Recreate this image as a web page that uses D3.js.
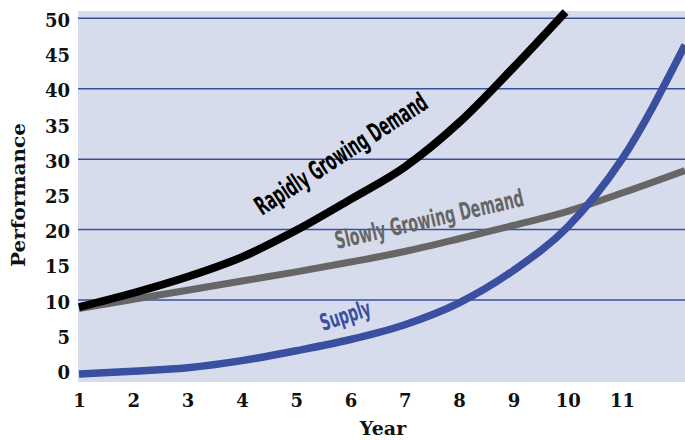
<!DOCTYPE html>
<html>
<head>
<meta charset="utf-8">
<script src="https://cdn.jsdelivr.net/npm/d3@7"></script>
<style>
  html, body { margin: 0; padding: 0; background: #ffffff; }
  svg { display: block; }
</style>
</head>
<body>
<svg id="chart" width="685" height="440"></svg>
<script>
// Performance over time: two demand curves against supply
const rapidYears   = [1, 2, 3, 4, 5, 6, 7, 8, 9, 9.96];
const rapidValues  = [9.0, 11.0, 13.3, 16.1, 19.9, 24.3, 28.9, 35.2, 43.0, 50.9];

const slowYears    = [1, 2, 3, 4, 5, 6, 7, 8, 9, 10, 11, 12.16];
const slowValues   = [8.8, 10.1, 11.4, 12.7, 14.0, 15.4, 16.9, 18.7, 20.6, 22.6, 25.2, 28.4];

const supplyYears  = [1, 2, 3, 4, 5, 6, 7, 8, 9, 10, 11, 12.16];
const supplyValues = [-0.5, -0.1, 0.4, 1.4, 2.8, 4.4, 6.5, 9.6, 14.2, 20.4, 30.0, 46.2];

const xTicks    = [1, 2, 3, 4, 5, 6, 7, 8, 9, 10, 11];
const yTicks    = [0, 5, 10, 15, 20, 25, 30, 35, 40, 45, 50];
const gridTicks = [10, 20, 30, 40, 50];

const seriesLabels = ["Rapidly Growing Demand", "Slowly Growing Demand", "Supply"];

const svg = d3.select("#chart");

const plot = { left: 78, right: 685, top: 11, bottom: 382 };

const x = d3.scaleLinear().domain([1, 11]).range([79, 622]);
const y = d3.scaleLinear().domain([0, 50]).range([370.5, 18.3]);

// plot background
svg.append("rect")
  .attr("x", plot.left).attr("y", plot.top)
  .attr("width", plot.right - plot.left).attr("height", plot.bottom - plot.top)
  .attr("fill", "#d7dcec");

// horizontal gridlines
svg.append("g")
  .selectAll("line")
  .data(gridTicks)
  .join("line")
  .attr("x1", plot.left).attr("x2", plot.right)
  .attr("y1", d => y(d)).attr("y2", d => y(d))
  .attr("stroke", "#3a4f9f")
  .attr("stroke-width", 1.5);

// y axis tick labels
const yAxis = d3.axisLeft(y).tickValues(yTicks).tickSize(0).tickPadding(0);
svg.append("g")
  .attr("transform", "translate(70,0)")
  .call(yAxis)
  .call(g => g.select(".domain").remove())
  .selectAll("text")
  .attr("font-family", "'DejaVu Serif', serif")
  .attr("font-weight", "bold")
  .attr("font-size", 18)
  .attr("fill", "#111")
  .attr("dy", "0.45em");

// x axis tick labels
const xAxis = d3.axisBottom(x).tickValues(xTicks).tickSize(0).tickPadding(0);
svg.append("g")
  .attr("transform", "translate(0,393)")
  .call(xAxis)
  .call(g => g.select(".domain").remove())
  .selectAll("text")
  .attr("font-family", "'DejaVu Serif', serif")
  .attr("font-weight", "bold")
  .attr("font-size", 18)
  .attr("fill", "#111")
  .attr("dy", "0.75em");

// axis titles
svg.append("text")
  .attr("transform", "translate(25,195) rotate(-90)")
  .attr("text-anchor", "middle")
  .attr("font-family", "'DejaVu Serif', serif")
  .attr("font-weight", "bold")
  .attr("font-size", 19)
  .attr("textLength", 144)
  .attr("lengthAdjust", "spacingAndGlyphs")
  .attr("fill", "#111")
  .text("Performance");

svg.append("text")
  .attr("x", 383).attr("y", 435)
  .attr("text-anchor", "middle")
  .attr("font-family", "'DejaVu Serif', serif")
  .attr("font-weight", "bold")
  .attr("font-size", 19)
  .attr("fill", "#111")
  .text("Year");

// series lines
const line = d3.line()
  .x(d => x(d[0]))
  .y(d => y(d[1]))
  .curve(d3.curveMonotoneX);

const series = [
  { years: slowYears,   values: slowValues,   color: "#666666", width: 7 },
  { years: supplyYears, values: supplyValues, color: "#3a4f9f", width: 7.5 },
  { years: rapidYears,  values: rapidValues,  color: "#000000", width: 8 }
];

svg.append("g")
  .selectAll("path")
  .data(series)
  .join("path")
  .attr("d", s => line(s.years.map((yr, i) => [yr, s.values[i]])))
  .attr("fill", "none")
  .attr("stroke", s => s.color)
  .attr("stroke-width", s => s.width)
  .attr("stroke-linecap", "butt");

// curve labels, condensed and set along each curve
const labelFont = "'DejaVu Sans Condensed', 'DejaVu Sans', sans-serif";
const labels = [
  { text: seriesLabels[0], px: 262, py: 216, angle: -33, len: 200, size: 26, color: "#000000" },
  { text: seriesLabels[1], px: 337, py: 249, angle: -13, len: 193, size: 24, color: "#666666" },
  { text: seriesLabels[2], px: 323, py: 331, angle: -18, len: 52,  size: 23, color: "#3a4f9f" }
];

svg.append("g")
  .selectAll("text")
  .data(labels)
  .join("text")
  .attr("transform", d => `translate(${d.px},${d.py}) rotate(${d.angle})`)
  .attr("font-family", labelFont)
  .attr("font-weight", 600)
  .attr("font-size", d => d.size)
  .attr("textLength", d => d.len)
  .attr("lengthAdjust", "spacingAndGlyphs")
  .attr("fill", d => d.color)
  .text(d => d.text);
</script>
</body>
</html>
